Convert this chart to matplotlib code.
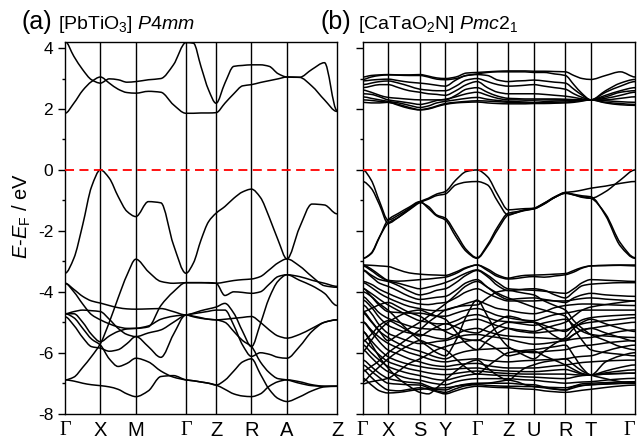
import numpy as np
import matplotlib.pyplot as plt
from matplotlib.path import Path
from matplotlib.patches import PathPatch

plt.rcParams['font.family'] = ['Liberation Sans', 'DejaVu Sans']
plt.rcParams['mathtext.fontset'] = 'custom'
plt.rcParams['mathtext.rm'] = 'Liberation Sans'
plt.rcParams['mathtext.it'] = 'Liberation Sans:italic'
plt.rcParams['axes.unicode_minus'] = False

# ---- PbTiO3 (P4mm): path G-X-M-G-Z-R-A-Z, segment lengths in pi/a ----
pto_labels = ['Γ', 'X', 'M', 'Γ', 'Z', 'R', 'A', 'Z']
pto_seg = [1, 1, 1.414, 0.85, 1, 1, 1.414]
pto_nsub = 4   # energies read at quarter points of every segment

pto_cond = [
    [1.86, 2.19, 2.61, 2.9, 3.05, 2.85, 2.65, 2.54, 2.52, 2.58, 2.55, 2.14, 1.86, 1.86, 1.87,
     1.87, 1.88, 2.19, 2.5, 2.76, 2.8, 2.87, 2.93, 2.99, 3.05, 3.04, 2.75, 2.3, 1.92],
    [4.22, 3.73, 3.29, 2.96, 2.85, 2.99, 2.96, 2.88, 2.9, 2.96, 3.0, 3.45, 4.18, 4.16, 3.39,
     2.63, 2.19, 2.85, 3.4, 3.43, 3.45, 3.45, 3.4, 3.16, 3.05, 3.04, 3.3, 3.52, 1.95],
]
pto_val = [
    [-3.39, -2.9, -1.8, -0.55, 0.0, -0.27, -0.87, -1.36, -1.53, -1.04, -1.08, -2.45, -3.39, -3.05, -2.3,
     -1.7, -1.42, -1.2, -0.93, -0.72, -0.63, -0.9, -1.55, -2.3, -2.92, -1.9, -1.12, -1.15, -1.44],
    [-6.89, -6.8, -6.48, -6.12, -5.7, -5.0, -4.2, -3.45, -2.93, -3.34, -3.66, -3.72, -3.7, -3.7, -3.7,
     -3.71, -3.72, -3.68, -3.63, -3.6, -3.58, -3.5, -3.28, -3.05, -2.92, -3.15, -3.5, -3.8, -3.85],
    [-3.72, -4.0, -4.4, -4.75, -4.92, -5.05, -5.15, -5.2, -5.2, -5.15, -4.45, -4.0, -3.7, -3.7, -3.7,
     -3.7, -3.72, -4.12, -4.0, -4.02, -4.05, -4.0, -3.75, -3.5, -3.44, -3.5, -3.62, -3.72, -3.82],
    [-3.72, -3.92, -4.15, -4.3, -4.37, -4.45, -4.52, -4.56, -4.57, -4.56, -4.55, -4.65, -4.76, -4.7, -4.62,
     -4.56, -4.5, -4.38, -4.7, -5.3, -5.8, -5.05, -4.2, -3.65, -3.44, -3.62, -3.8, -4.05, -4.45],
    [-4.72, -4.65, -4.6, -4.62, -4.65, -4.9, -5.2, -5.4, -5.47, -5.35, -5.25, -5.0, -4.76, -4.72, -4.68,
     -4.64, -4.6, -4.6, -5.1, -5.75, -6.12, -6.0, -6.05, -6.15, -6.18, -5.8, -5.3, -5.0, -4.92],
    [-4.72, -4.72, -5.0, -5.4, -5.64, -5.45, -5.3, -5.22, -5.2, -5.12, -4.9, -4.8, -4.76, -4.8, -4.85,
     -4.9, -4.92, -4.9, -4.87, -4.84, -4.81, -5.0, -5.25, -5.45, -5.52, -5.4, -5.2, -5.0, -4.92],
    [-4.82, -5.1, -5.5, -5.8, -5.85, -5.95, -5.9, -5.7, -5.47, -5.8, -6.15, -5.4, -4.76, -4.82, -4.87,
     -4.9, -4.92, -5.0, -5.3, -5.6, -5.8, -6.3, -6.65, -6.85, -6.89, -7.0, -7.08, -7.1, -7.1],
    [-4.72, -4.85, -5.2, -5.55, -5.75, -6.2, -6.45, -6.35, -6.18, -6.3, -6.6, -6.8, -6.89, -6.92, -6.96,
     -7.0, -7.06, -6.9, -6.6, -6.3, -6.2, -6.7, -7.2, -7.5, -7.6, -7.45, -7.25, -7.12, -7.1],
    [-6.89, -6.93, -7.0, -7.05, -7.08, -7.12, -7.2, -7.35, -7.44, -7.25, -6.78, -6.75, -6.89, -6.92, -6.96,
     -7.0, -7.06, -7.2, -7.35, -7.42, -7.44, -7.35, -7.1, -6.95, -6.89, -6.95, -7.05, -7.1, -7.1],
]

# ---- CaTaO2N (Pmc21): path G-X-S-Y-G-Z-U-R-T-G ----
cton_labels = ['Γ', 'X', 'S', 'Y', 'Γ', 'Z', 'U', 'R', 'T', 'Γ']
cton_seg = [1, 1.255, 1, 1.255, 1.23, 1, 1.255, 1, 1.757]
cton_nsub = 3  # energies read at third points of every segment

cton_cond = [
    [3.05, 3.1, 3.12, 3.13, 3.12, 3.12, 3.13, 3.08, 3.02, 3.0, 3.05, 3.18, 3.2, 3.22,
     3.24, 3.25, 3.25, 3.25, 3.24, 3.24, 3.23, 3.22, 3.1, 3.0, 2.97, 3.1, 3.22, 3.05],
    [2.97, 3.05, 3.1, 3.12, 3.11, 3.1, 3.1, 3.05, 2.98, 2.96, 3.0, 3.1, 3.15, 3.2,
     3.22, 3.22, 3.22, 3.22, 3.2, 3.2, 3.15, 3.1, 2.8, 2.5, 2.3, 2.6, 2.85, 2.97],
    [2.92, 2.95, 2.97, 2.98, 2.93, 2.88, 2.85, 2.82, 2.78, 2.75, 2.95, 3.1, 3.13, 3.1,
     2.95, 2.9, 2.92, 2.93, 2.95, 2.92, 2.88, 2.85, 2.65, 2.45, 2.3, 2.55, 2.75, 2.9],
    [2.8, 2.85, 2.9, 2.92, 2.85, 2.75, 2.65, 2.62, 2.6, 2.6, 2.75, 2.95, 3.0, 2.9,
     2.8, 2.75, 2.76, 2.78, 2.8, 2.75, 2.7, 2.65, 2.5, 2.38, 2.3, 2.45, 2.6, 2.7],
    [2.7, 2.75, 2.8, 2.8, 2.7, 2.6, 2.55, 2.5, 2.48, 2.45, 2.6, 2.8, 2.9, 2.7,
     2.55, 2.5, 2.5, 2.5, 2.5, 2.48, 2.45, 2.42, 2.38, 2.33, 2.3, 2.4, 2.55, 2.6],
    [2.62, 2.55, 2.45, 2.38, 2.35, 2.32, 2.3, 2.3, 2.3, 2.3, 2.45, 2.65, 2.7, 2.55,
     2.42, 2.35, 2.34, 2.33, 2.33, 2.33, 2.33, 2.32, 2.31, 2.3, 2.3, 2.35, 2.45, 2.55],
    [2.5, 2.48, 2.4, 2.3, 2.25, 2.2, 2.15, 2.2, 2.28, 2.32, 2.4, 2.5, 2.55, 2.45,
     2.35, 2.3, 2.3, 2.29, 2.29, 2.3, 2.3, 2.3, 2.3, 2.3, 2.3, 2.3, 2.35, 2.4],
    [2.4, 2.35, 2.3, 2.25, 2.2, 2.12, 2.05, 2.1, 2.2, 2.25, 2.3, 2.35, 2.38, 2.32,
     2.28, 2.25, 2.24, 2.23, 2.22, 2.24, 2.26, 2.27, 2.28, 2.29, 2.3, 2.27, 2.24, 2.22],
    [2.3, 2.28, 2.25, 2.22, 2.15, 2.05, 1.98, 2.02, 2.1, 2.18, 2.22, 2.25, 2.27, 2.26,
     2.24, 2.22, 2.21, 2.2, 2.2, 2.21, 2.22, 2.23, 2.25, 2.28, 2.3, 2.22, 2.18, 2.15],
    [2.22, 2.2, 2.2, 2.22, 2.12, 2.02, 1.97, 2.0, 2.08, 2.15, 2.2, 2.22, 2.23, 2.2,
     2.18, 2.17, 2.17, 2.17, 2.18, 2.18, 2.19, 2.2, 2.22, 2.26, 2.3, 2.2, 2.14, 2.12],
]
cton_val_top = [
    [0.0, -0.33, -1.04, -1.64, -1.48, -1.26, -1.04, -0.93, -0.79, -0.71, -0.33, -0.05, 0.0, -0.22,
     -0.82, -1.31, -1.29, -1.27, -1.26, -1.09, -0.88, -0.74, -0.71, -0.66, -0.6, -0.53, -0.44, -0.38],
    [-0.38, -0.6, -1.15, -1.75, -1.55, -1.31, -1.07, -0.96, -0.84, -0.79, -0.49, -0.4, -0.38, -0.49,
     -1.04, -1.48, -1.4, -1.31, -1.28, -1.11, -0.9, -0.77, -0.82, -0.9, -0.93, -0.71, -0.33, 0.0],
    [-2.9, -2.73, -2.19, -1.75, -1.55, -1.29, -1.07, -1.2, -1.48, -1.58, -2.08, -2.62, -2.88, -2.46,
     -1.86, -1.42, -1.37, -1.31, -1.26, -1.09, -0.9, -0.74, -0.82, -0.88, -0.93, -1.45, -2.4, -2.88],
    [-2.9, -2.75, -2.2, -1.64, -1.42, -1.22, -1.04, -1.26, -1.51, -1.64, -2.19, -2.68, -2.9, -2.51,
     -1.95, -1.48, -1.4, -1.33, -1.28, -1.12, -0.9, -0.76, -0.8, -0.85, -0.88, -1.5, -2.5, -2.9],
]
cton_val_low = [
    [-3.12, -3.13, -3.15, -3.17, -3.28, -3.38, -3.42, -3.44, -3.45, -3.46, -3.35, -3.2, -3.12, -3.25,
     -3.45, -3.55, -3.5, -3.46, -3.45, -3.44, -3.42, -3.4, -3.3, -3.2, -3.15, -3.13, -3.12, -3.12],
    [-3.12, -3.25, -3.45, -3.62, -3.65, -3.63, -3.6, -3.58, -3.55, -3.52, -3.4, -3.22, -3.12, -3.3,
     -3.5, -3.58, -3.56, -3.52, -3.5, -3.52, -3.48, -3.44, -3.35, -3.22, -3.15, -3.14, -3.13, -3.15],
    [-3.15, -3.3, -3.5, -3.64, -3.72, -3.82, -3.9, -3.85, -3.78, -3.7, -3.55, -3.38, -3.28, -3.45,
     -3.7, -3.9, -3.92, -3.94, -3.95, -3.98, -4.02, -4.05, -3.9, -3.7, -3.6, -3.62, -3.64, -3.66],
    [-3.28, -3.45, -3.6, -3.66, -3.8, -3.98, -4.1, -4.05, -3.95, -3.9, -3.7, -3.45, -3.3, -3.5,
     -3.8, -3.96, -3.94, -3.91, -3.9, -3.95, -4.1, -4.2, -4.0, -3.8, -3.75, -3.72, -3.7, -3.7],
    [-3.3, -3.5, -3.72, -3.82, -3.98, -4.15, -4.25, -4.22, -4.18, -4.15, -3.95, -3.7, -3.6, -3.85,
     -4.1, -4.25, -4.23, -4.21, -4.2, -4.25, -4.3, -4.35, -4.2, -4.1, -4.05, -4.1, -4.13, -4.15],
    [-3.66, -3.75, -3.92, -4.05, -4.2, -4.32, -4.4, -4.42, -4.38, -4.35, -4.2, -4.0, -3.9, -4.05,
     -4.2, -4.3, -4.3, -4.3, -4.3, -4.28, -4.3, -4.3, -4.26, -4.22, -4.2, -4.24, -4.27, -4.3],
    [-3.7, -3.85, -4.05, -4.2, -4.35, -4.48, -4.55, -4.6, -4.62, -4.6, -4.5, -4.38, -4.3, -4.42,
     -4.55, -4.6, -4.66, -4.7, -4.72, -4.65, -4.52, -4.45, -4.42, -4.4, -4.4, -4.42, -4.44, -4.45],
    [-3.88, -4.15, -4.45, -4.65, -4.68, -4.7, -4.7, -4.75, -4.8, -4.8, -4.7, -4.6, -4.55, -4.65,
     -4.78, -4.85, -4.9, -4.93, -4.95, -4.85, -4.75, -4.7, -4.65, -4.6, -4.6, -4.6, -4.6, -4.6],
    [-3.9, -4.05, -4.25, -4.43, -4.62, -4.8, -4.95, -5.0, -5.05, -5.05, -4.95, -4.8, -4.75, -4.85,
     -4.95, -4.98, -5.0, -5.0, -5.0, -5.1, -5.22, -5.3, -5.1, -4.92, -4.85, -4.8, -4.77, -4.75],
    [-4.16, -4.4, -4.7, -4.87, -5.0, -5.12, -5.2, -5.22, -5.24, -5.25, -5.1, -4.95, -4.9, -5.0,
     -5.12, -5.2, -5.28, -5.32, -5.35, -5.32, -5.28, -5.25, -5.15, -5.05, -5.0, -4.95, -4.9, -4.85],
    [-4.27, -4.5, -4.85, -5.1, -5.25, -5.35, -5.4, -5.45, -5.52, -5.55, -5.4, -5.25, -5.2, -5.3,
     -5.4, -5.45, -5.47, -5.49, -5.5, -5.52, -5.54, -5.55, -5.4, -5.25, -5.2, -5.12, -5.05, -5.0],
    [-4.43, -4.7, -5.1, -5.36, -5.5, -5.62, -5.7, -5.68, -5.63, -5.6, -5.5, -5.42, -5.4, -5.45,
     -5.5, -5.55, -5.62, -5.68, -5.72, -5.7, -5.65, -5.6, -5.55, -5.52, -5.5, -5.4, -5.3, -5.25],
    [-4.65, -4.55, -4.42, -4.35, -4.5, -4.68, -4.8, -4.98, -5.15, -5.3, -5.45, -5.56, -5.6, -5.4,
     -5.15, -5.0, -5.03, -5.07, -5.1, -5.02, -4.95, -4.9, -5.1, -5.3, -5.4, -5.45, -5.48, -5.5],
    [-4.7, -4.98, -5.3, -5.5, -5.7, -5.85, -5.95, -6.05, -6.15, -6.2, -6.05, -5.95, -5.9, -5.88,
     -5.86, -5.85, -5.92, -5.97, -6.0, -5.96, -5.93, -5.9, -5.82, -5.77, -5.75, -5.68, -5.63, -5.6],
    [-4.98, -5.25, -5.5, -5.69, -5.85, -6.0, -6.1, -6.2, -6.27, -6.3, -6.25, -6.22, -6.2, -6.25,
     -6.28, -6.3, -6.28, -6.26, -6.25, -6.23, -6.22, -6.2, -6.15, -6.12, -6.1, -5.95, -5.82, -5.75],
    [-5.0, -5.3, -5.65, -5.91, -6.05, -6.2, -6.3, -6.38, -6.43, -6.45, -6.4, -6.36, -6.35, -6.42,
     -6.47, -6.5, -6.5, -6.5, -6.5, -6.47, -6.43, -6.4, -6.36, -6.32, -6.3, -6.27, -6.25, -6.24],
    [-5.31, -5.6, -5.9, -6.13, -6.28, -6.38, -6.45, -6.5, -6.53, -6.55, -6.53, -6.51, -6.5, -6.55,
     -6.58, -6.6, -6.61, -6.62, -6.62, -6.6, -6.57, -6.55, -6.62, -6.7, -6.73, -6.6, -6.48, -6.4],
    [-5.58, -5.82, -6.08, -6.29, -6.42, -6.53, -6.6, -6.66, -6.7, -6.72, -6.68, -6.63, -6.6, -6.63,
     -6.66, -6.68, -6.69, -6.7, -6.7, -6.7, -6.7, -6.7, -6.72, -6.73, -6.73, -6.66, -6.6, -6.56],
    [-5.74, -6.0, -6.25, -6.45, -6.58, -6.68, -6.75, -6.82, -6.88, -6.9, -6.82, -6.74, -6.7, -6.72,
     -6.74, -6.75, -6.77, -6.79, -6.8, -6.82, -6.84, -6.85, -6.8, -6.75, -6.73, -6.7, -6.68, -6.67],
    [-5.91, -6.15, -6.42, -6.62, -6.75, -6.85, -6.9, -6.97, -7.02, -7.05, -6.95, -6.88, -6.85, -6.85,
     -6.85, -6.85, -6.87, -6.89, -6.9, -6.94, -6.97, -7.0, -6.98, -6.96, -6.95, -6.9, -6.86, -6.84],
    [-6.24, -6.45, -6.68, -6.84, -6.92, -6.97, -7.0, -7.1, -7.2, -7.22, -7.1, -7.03, -7.0, -7.0,
     -7.0, -7.0, -7.02, -7.04, -7.05, -7.12, -7.18, -7.22, -7.1, -7.02, -7.0, -6.98, -6.96, -6.95],
    [-6.4, -6.6, -6.82, -7.0, -7.03, -7.05, -7.06, -7.15, -7.25, -7.3, -7.18, -7.08, -7.05, -7.07,
     -7.09, -7.1, -7.1, -7.11, -7.11, -7.13, -7.14, -7.15, -7.1, -7.07, -7.05, -7.03, -7.01, -7.0],
    [-6.56, -6.8, -7.05, -7.22, -7.25, -7.2, -7.15, -7.2, -7.28, -7.35, -7.25, -7.15, -7.1, -7.12,
     -7.14, -7.15, -7.17, -7.19, -7.2, -7.25, -7.28, -7.3, -7.27, -7.23, -7.2, -7.14, -7.09, -7.06],
    [-6.84, -7.05, -7.25, -7.32, -7.3, -7.25, -7.2, -7.18, -7.16, -7.15, -7.1, -7.05, -7.02, -7.0,
     -6.95, -6.9, -6.95, -7.05, -7.11, -7.15, -7.2, -7.22, -7.15, -7.08, -7.05, -7.02, -7.0, -6.98],
    [-4.65, -4.95, -5.3, -5.6, -5.4, -5.2, -5.0, -4.8, -4.6, -4.4, -4.1, -3.8, -3.66, -3.85,
     -4.05, -4.2, -4.3, -4.4, -4.5, -4.6, -4.7, -4.8, -5.2, -5.6, -5.9, -6.0, -6.05, -6.1],
    [-5.95, -5.6, -5.25, -5.0, -4.8, -4.65, -4.6, -4.7, -4.8, -4.9, -5.3, -5.7, -5.9, -5.6,
     -5.35, -5.2, -5.24, -5.27, -5.3, -5.2, -5.1, -5.0, -4.8, -4.6, -4.5, -4.42, -4.35, -4.3],
    [-6.95, -6.7, -6.45, -6.2, -5.95, -5.75, -5.6, -5.7, -5.8, -5.9, -6.2, -6.5, -6.7, -6.45,
     -6.2, -6.0, -5.96, -5.92, -5.9, -5.85, -5.8, -5.75, -6.1, -6.5, -6.73, -6.7, -6.68, -6.67],
    [-7.02, -6.95, -6.9, -6.84, -6.6, -6.35, -6.2, -6.05, -5.9, -5.8, -5.7, -5.62, -5.58, -5.7,
     -5.9, -6.1, -6.05, -5.98, -5.95, -6.1, -6.25, -6.4, -6.55, -6.68, -6.73, -6.3, -6.1, -6.0],
    [-5.62, -5.4, -5.1, -4.95, -5.1, -5.3, -5.45, -5.3, -5.15, -5.05, -5.15, -5.3, -5.35, -5.15,
     -4.95, -4.8, -4.85, -4.95, -5.0, -5.2, -5.45, -5.6, -5.4, -5.25, -5.2, -5.35, -5.5, -5.62],
    [-4.0, -4.15, -4.4, -4.6, -4.95, -5.3, -5.6, -5.8, -6.0, -6.1, -5.6, -4.8, -4.27, -4.8,
     -5.4, -5.8, -5.95, -6.1, -6.2, -5.95, -5.7, -5.5, -5.2, -5.0, -4.9, -5.05, -5.2, -5.3],
    [-6.6, -6.45, -6.25, -6.0, -5.75, -5.5, -5.25, -5.0, -4.8, -4.6, -4.5, -4.45, -4.43, -4.2,
     -4.0, -3.95, -4.0, -4.05, -4.1, -4.3, -4.45, -4.6, -4.95, -5.2, -5.4, -5.6, -5.8, -5.9],
    [-5.3, -5.7, -6.15, -6.5, -6.85, -7.1, -7.3, -7.35, -7.15, -6.9, -6.6, -6.35, -6.24, -6.5,
     -6.75, -6.9, -6.7, -6.5, -6.4, -6.3, -6.25, -6.2, -6.4, -6.6, -6.73, -6.85, -6.95, -7.0],
]

e_ticks = [-8, -6, -4, -2, 0, 2, 4]


def kpoints(seg, nsub):
    k = [0.0]
    for length in seg:
        start = k[-1]
        k += [start + length * j / nsub for j in range(1, nsub + 1)]
    return np.array(k)


def band_path(k, e):
    # monotone cubic through the read energies, drawn as bezier segments
    e = np.asarray(e, float)
    h = np.diff(k)
    d = np.diff(e) / h
    m = np.zeros_like(e)
    for i in range(1, len(e) - 1):
        if d[i - 1] * d[i] > 0:
            w1 = 2 * h[i] + h[i - 1]
            w2 = h[i] + 2 * h[i - 1]
            m[i] = (w1 + w2) / (w1 / d[i - 1] + w2 / d[i])
    verts = [(k[0], e[0])]
    codes = [Path.MOVETO]
    for i in range(len(e) - 1):
        verts += [(k[i] + h[i] / 3, e[i] + m[i] * h[i] / 3),
                  (k[i + 1] - h[i] / 3, e[i + 1] - m[i + 1] * h[i] / 3),
                  (k[i + 1], e[i + 1])]
        codes += [Path.CURVE4] * 3
    return Path(verts, codes)


def draw_panel(ax, seg, nsub, labels, bands, show_ylabels):
    k = kpoints(seg, nsub)
    for e in bands:
        ax.add_patch(PathPatch(band_path(k, e), fill=False, ec='black', lw=1.1))
    hs = np.concatenate([[0.0], np.cumsum(seg)])
    for x in hs[1:-1]:
        ax.axvline(x, color='black', lw=1.0)
    ax.axhline(0, color='red', lw=1.3, ls=(0, (5, 3)), zorder=5)
    ax.set_xlim(0, hs[-1])
    ax.set_ylim(-8, 4.2)
    ax.set_xticks(hs)
    ax.set_xticklabels(labels, fontsize=14.5)
    for lab in ax.get_xticklabels():
        if lab.get_text() == 'Γ':
            lab.set_fontfamily('Liberation Serif')
    ax.tick_params(axis='x', length=0, pad=5)
    ax.set_yticks(e_ticks)
    ax.set_yticks(range(-7, 5, 2), minor=True)
    ax.tick_params(axis='y', which='major', direction='out', length=5, width=1, labelsize=12.5)
    ax.tick_params(axis='y', which='minor', direction='out', length=2.5, width=1)
    if not show_ylabels:
        ax.tick_params(axis='y', labelleft=False)
    for s in ax.spines.values():
        s.set_linewidth(1.0)


fig = plt.figure(figsize=(6.39, 4.40), dpi=100)
ax1 = fig.add_axes([0.1017, 0.0598, 0.4257, 0.8448])
ax2 = fig.add_axes([0.5676, 0.0598, 0.4266, 0.8448])

draw_panel(ax1, pto_seg, pto_nsub, pto_labels, pto_cond + pto_val, True)
draw_panel(ax2, cton_seg, cton_nsub, cton_labels,
           cton_cond + cton_val_top + cton_val_low, False)
# last Gamma sits on the figure edge; keep it inside
ax2.get_xticklabels()[-1].set_horizontalalignment('right')

fig.text(0.034, 0.508, r'$E$-$E_{\mathrm{F}}$ / eV', rotation=90,
         ha='center', va='center', fontsize=14.5)

fig.text(0.034, 0.935, '(a)', fontsize=18, va='baseline')
fig.text(0.091, 0.935, r'[PbTiO$_3$] $\mathit{P4mm}$', fontsize=14, va='baseline')
fig.text(0.502, 0.935, '(b)', fontsize=18, va='baseline')
fig.text(0.561, 0.935, r'[CaTaO$_2$N] $\mathit{Pmc}2_1$', fontsize=14, va='baseline')

fig.savefig('out.png', dpi=100)
